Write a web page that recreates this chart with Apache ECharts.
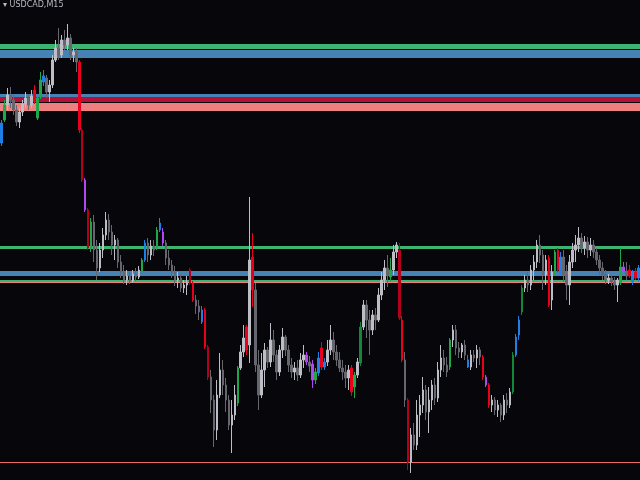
<!DOCTYPE html>
<html>
<head>
<meta charset="utf-8">
<script src="https://cdn.jsdelivr.net/npm/echarts@6/dist/echarts.min.js"></script>
<style>
html,body{margin:0;padding:0;background:#07070b;}
#chart{width:640px;height:480px;}
</style>
</head>
<body>
<div id="chart"></div>
<script>
// USDCAD, M15 candles (prices)
const opens = [
1.3857,1.3880,1.3895,1.3905,1.3900,1.3890,1.3878,1.3888,1.3896,1.3902,
1.3895,1.3910,1.3882,1.3903,1.3918,1.3922,1.3908,1.3915,1.3940,1.3952,
1.3945,1.3960,1.3955,1.3962,1.3945,1.3948,1.3938,1.3870,1.3820,1.3790,
1.3752,1.3778,1.3750,1.3732,1.3750,1.3765,1.3780,1.3768,1.3755,1.3760,
1.3738,1.3728,1.3720,1.3724,1.3719,1.3726,1.3723,1.3728,1.3740,1.3757,
1.3745,1.3754,1.3752,1.3770,1.3768,1.3757,1.3742,1.3735,1.3728,1.3720,
1.3722,1.3712,1.3715,1.3730,1.3717,1.3700,1.3694,1.3678,1.3690,1.3653,
1.3623,1.3600,1.3570,1.3605,1.3630,1.3615,1.3600,1.3575,1.3585,1.3597,
1.3632,1.3648,1.3673,1.3655,1.3743,1.3710,1.3635,1.3605,1.3630,1.3650,
1.3638,1.3660,1.3645,1.3628,1.3650,1.3663,1.3650,1.3635,1.3628,1.3632,
1.3625,1.3640,1.3645,1.3638,1.3636,1.3620,1.3627,1.3652,1.3633,1.3638,
1.3650,1.3660,1.3648,1.3640,1.3632,1.3628,1.3622,1.3632,1.3613,1.3625,
1.3637,1.3673,1.3695,1.3680,1.3670,1.3685,1.3680,1.3705,1.3720,1.3732,
1.3723,1.3730,1.3748,1.3750,1.3680,1.3640,1.3600,1.3538,1.3565,1.3555,
1.3585,1.3595,1.3610,1.3588,1.3600,1.3615,1.3602,1.3630,1.3642,1.3635,
1.3633,1.3660,1.3670,1.3652,1.3648,1.3655,1.3640,1.3633,1.3645,1.3642,
1.3650,1.3643,1.3623,1.3615,1.3595,1.3600,1.3590,1.3595,1.3585,1.3600,
1.3595,1.3608,1.3645,1.3665,1.3688,1.3712,1.3720,1.3715,1.3730,1.3738,
1.3755,1.3745,1.3725,1.3742,1.3700,1.3727,1.3750,1.3727,1.3743,1.3725,
1.3715,1.3738,1.3750,1.3755,1.3762,1.3752,1.3758,1.3750,1.3755,1.3748,
1.3740,1.3732,1.3725,1.3720,1.3722,1.3718,1.3715,1.3717,1.3733,1.3729,
1.3730,1.3718,1.3728,1.3722
];
const closes = [
1.3877,1.3895,1.3905,1.3900,1.3890,1.3878,1.3888,1.3896,1.3902,1.3895,
1.3904,1.3898,1.3902,1.3920,1.3924,1.3908,1.3915,1.3940,1.3952,1.3945,
1.3960,1.3955,1.3962,1.3945,1.3948,1.3938,1.3870,1.3820,1.3790,1.3752,
1.3778,1.3750,1.3732,1.3750,1.3765,1.3780,1.3768,1.3755,1.3760,1.3738,
1.3728,1.3720,1.3724,1.3719,1.3726,1.3723,1.3730,1.3740,1.3757,1.3745,
1.3754,1.3750,1.3770,1.3777,1.3757,1.3742,1.3735,1.3728,1.3720,1.3722,
1.3712,1.3715,1.3717,1.3717,1.3700,1.3694,1.3688,1.3690,1.3653,1.3623,
1.3600,1.3570,1.3605,1.3630,1.3615,1.3600,1.3575,1.3585,1.3605,1.3632,
1.3648,1.3662,1.3650,1.3740,1.3710,1.3635,1.3605,1.3630,1.3650,1.3638,
1.3660,1.3645,1.3628,1.3650,1.3663,1.3650,1.3635,1.3628,1.3632,1.3625,
1.3640,1.3645,1.3638,1.3634,1.3620,1.3628,1.3642,1.3633,1.3638,1.3650,
1.3660,1.3648,1.3640,1.3632,1.3628,1.3622,1.3630,1.3608,1.3625,1.3638,
1.3673,1.3695,1.3680,1.3670,1.3685,1.3680,1.3705,1.3720,1.3732,1.3725,
1.3730,1.3748,1.3755,1.3682,1.3640,1.3600,1.3538,1.3565,1.3555,1.3585,
1.3595,1.3610,1.3588,1.3600,1.3615,1.3602,1.3630,1.3642,1.3635,1.3628,
1.3660,1.3670,1.3652,1.3648,1.3655,1.3645,1.3633,1.3645,1.3642,1.3650,
1.3643,1.3623,1.3615,1.3595,1.3600,1.3590,1.3595,1.3585,1.3600,1.3595,
1.3608,1.3645,1.3663,1.3680,1.3712,1.3720,1.3715,1.3730,1.3738,1.3755,
1.3745,1.3725,1.3740,1.3695,1.3728,1.3748,1.3730,1.3743,1.3725,1.3715,
1.3738,1.3750,1.3755,1.3762,1.3752,1.3758,1.3750,1.3755,1.3748,1.3740,
1.3732,1.3725,1.3720,1.3722,1.3718,1.3715,1.3720,1.3733,1.3729,1.3724,
1.3724,1.3725,1.3722,1.3732
];
const highs = [
1.3880,1.3900,1.3912,1.3913,1.3905,1.3895,1.3892,1.3900,1.3908,1.3906,
1.3910,1.3915,1.3904,1.3928,1.3930,1.3925,1.3920,1.3945,1.3960,1.3972,
1.3965,1.3970,1.3976,1.3966,1.3952,1.3952,1.3940,1.3872,1.3822,1.3792,
1.3782,1.3785,1.3760,1.3757,1.3772,1.3788,1.3786,1.3775,1.3765,1.3762,
1.3745,1.3735,1.3730,1.3728,1.3730,1.3732,1.3734,1.3742,1.3760,1.3762,
1.3760,1.3760,1.3773,1.3782,1.3772,1.3760,1.3750,1.3740,1.3734,1.3728,
1.3726,1.3720,1.3724,1.3732,1.3719,1.3705,1.3700,1.3694,1.3692,1.3655,
1.3630,1.3605,1.3620,1.3647,1.3640,1.3622,1.3605,1.3600,1.3615,1.3634,
1.3655,1.3675,1.3675,1.3803,1.3767,1.3717,1.3650,1.3647,1.3657,1.3653,
1.3677,1.3670,1.3650,1.3655,1.3672,1.3665,1.3655,1.3642,1.3638,1.3640,
1.3647,1.3655,1.3648,1.3644,1.3640,1.3632,1.3648,1.3658,1.3642,1.3660,
1.3675,1.3668,1.3655,1.3648,1.3640,1.3635,1.3635,1.3635,1.3628,1.3642,
1.3678,1.3700,1.3700,1.3690,1.3690,1.3692,1.3712,1.3728,1.3740,1.3745,
1.3742,1.3755,1.3758,1.3757,1.3684,1.3648,1.3602,1.3572,1.3577,1.3600,
1.3605,1.3623,1.3615,1.3613,1.3620,1.3622,1.3638,1.3655,1.3650,1.3643,
1.3662,1.3675,1.3675,1.3658,1.3657,1.3660,1.3645,1.3650,1.3650,1.3655,
1.3653,1.3645,1.3625,1.3617,1.3605,1.3603,1.3600,1.3597,1.3605,1.3607,
1.3612,1.3648,1.3666,1.3684,1.3715,1.3725,1.3728,1.3735,1.3745,1.3760,
1.3765,1.3750,1.3745,1.3745,1.3735,1.3750,1.3752,1.3748,1.3750,1.3735,
1.3745,1.3757,1.3765,1.3773,1.3767,1.3764,1.3763,1.3762,1.3760,1.3752,
1.3745,1.3738,1.3730,1.3726,1.3725,1.3723,1.3722,1.3752,1.3738,1.3738,
1.3735,1.3730,1.3732,1.3735
];
const lows = [
1.3854,1.3878,1.3890,1.3892,1.3885,1.3874,1.3872,1.3884,1.3892,1.3890,
1.3892,1.3896,1.3880,1.3901,1.3914,1.3902,1.3898,1.3912,1.3938,1.3940,
1.3942,1.3950,1.3950,1.3940,1.3938,1.3928,1.3867,1.3818,1.3788,1.3750,
1.3748,1.3738,1.3720,1.3728,1.3742,1.3760,1.3760,1.3745,1.3740,1.3732,
1.3722,1.3716,1.3715,1.3716,1.3717,1.3719,1.3721,1.3726,1.3738,1.3738,
1.3740,1.3744,1.3750,1.3768,1.3754,1.3735,1.3730,1.3722,1.3714,1.3712,
1.3708,1.3707,1.3705,1.3715,1.3698,1.3686,1.3680,1.3676,1.3651,1.3620,
1.3587,1.3553,1.3560,1.3602,1.3605,1.3588,1.3570,1.3547,1.3580,1.3594,
1.3630,1.3643,1.3645,1.3637,1.3693,1.3628,1.3590,1.3602,1.3613,1.3632,
1.3633,1.3638,1.3620,1.3624,1.3642,1.3644,1.3628,1.3622,1.3620,1.3619,
1.3622,1.3632,1.3635,1.3628,1.3612,1.3616,1.3624,1.3630,1.3630,1.3634,
1.3645,1.3640,1.3634,1.3628,1.3620,1.3612,1.3610,1.3604,1.3602,1.3622,
1.3634,1.3670,1.3662,1.3645,1.3665,1.3670,1.3678,1.3700,1.3710,1.3713,
1.3718,1.3725,1.3742,1.3680,1.3638,1.3593,1.3530,1.3527,1.3550,1.3550,
1.3563,1.3587,1.3580,1.3567,1.3590,1.3595,1.3598,1.3623,1.3628,1.3623,
1.3630,1.3653,1.3645,1.3642,1.3642,1.3640,1.3632,1.3630,1.3638,1.3632,
1.3635,1.3620,1.3613,1.3592,1.3588,1.3585,1.3583,1.3578,1.3580,1.3587,
1.3592,1.3606,1.3643,1.3660,1.3685,1.3708,1.3708,1.3710,1.3720,1.3732,
1.3737,1.3710,1.3715,1.3693,1.3690,1.3724,1.3728,1.3725,1.3718,1.3700,
1.3695,1.3732,1.3738,1.3748,1.3747,1.3745,1.3742,1.3744,1.3742,1.3735,
1.3725,1.3720,1.3716,1.3716,1.3714,1.3710,1.3698,1.3715,1.3726,1.3720,
1.3722,1.3715,1.3720,1.3718
];
// indicator-coloured bars: [bar index, signal]
const signalBars = [
[0,'B'],[1,'G'],[11,'R'],[12,'G'],[13,'G'],[14,'B'],[26,'R'],[27,'r'],[28,'P'],[29,'r'],
[30,'G'],[47,'G'],[48,'B'],[52,'G'],[53,'B'],[54,'P'],[63,'r'],[64,'R'],[67,'B'],[68,'R'],
[69,'r'],[79,'G'],[82,'R'],[84,'R'],[102,'P'],[104,'P'],[105,'G'],[106,'B'],[107,'R'],[108,'B'],
[117,'R'],[118,'G'],[120,'g'],[130,'G'],[133,'r'],[134,'R'],[136,'r'],[150,'G'],[156,'B'],[161,'R'],
[162,'P'],[163,'R'],[171,'g'],[172,'B'],[173,'B'],[174,'g'],[183,'R'],[185,'G'],[186,'R'],[187,'B'],
[207,'G'],[208,'P'],[210,'R'],[211,'B'],[212,'R'],[213,'B']
];
// horizontal levels (upper price, lower price)
const levelHigh = [1.3956, 1.3950, 1.3906, 1.3903, 1.3897, 1.3754, 1.3729, 1.3720, 1.3718, 1.3538];
const levelLow  = [1.3951, 1.3942, 1.3903, 1.3898, 1.3889, 1.3751, 1.3724, 1.3718, 1.3717, 1.3537];
const levelColors = ['#3cb371','#4682b4','#4682b4','#b5103a','#f08080','#3cb371','#4682b4','#3cb371','#f08080','#f06a6a'];

const signalColors = {R:'#e8001c', r:'#b4001c', G:'#1fa84a', g:'#11873a', B:'#1e80e6', P:'#b048f0'};

const categories = closes.map((_, i) => String(i));
const signalMap = {};
signalBars.forEach(([i, s]) => { signalMap[i] = s; });
const candleData = closes.map((c, i) => {
  const item = { value: [opens[i], c, lows[i], highs[i]] };
  const s = signalMap[i];
  if (s) {
    const col = signalColors[s];
    item.itemStyle = { color: col, color0: col, borderColor: col, borderColor0: col };
  }
  return item;
});

const chart = echarts.init(document.getElementById('chart'));
chart.setOption({
  animation: false,
  backgroundColor: '#07070b',
  title: {
    text: '▾ USDCAD,M15',
    left: 1, top: 0, padding: [1, 2],
    textStyle: { color: '#b8b8c0', fontSize: 8, fontWeight: 'normal', fontFamily: 'DejaVu Sans' }
  },
  grid: { left: 0, right: 0, top: 0, bottom: 0 },
  xAxis: { type: 'category', data: categories, show: false, boundaryGap: true },
  yAxis: { type: 'value', min: 1.3520, max: 1.4000, show: false, splitLine: { show: false } },
  series: [{
    type: 'candlestick',
    data: candleData,
    barWidth: 2,
    itemStyle: {
      color: '#bdbdc5', color0: '#66666e',
      borderColor: '#bdbdc5', borderColor0: '#66666e',
      borderWidth: 1
    },
    markArea: {
      silent: true,
      data: levelHigh.map((h, i) => [
        { yAxis: h, itemStyle: { color: levelColors[i], opacity: 1 } },
        { yAxis: levelLow[i] }
      ])
    }
  }]
});
</script>
</body>
</html>
